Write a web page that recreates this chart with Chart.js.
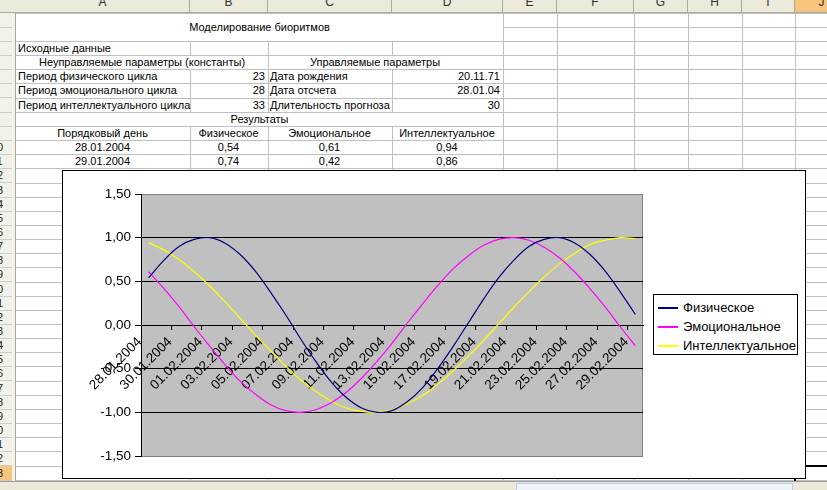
<!DOCTYPE html>
<html>
<head>
<meta charset="utf-8">
<script src="https://cdn.jsdelivr.net/npm/chart.js@4"></script>
<style>
  body { margin: 0; width: 827px; height: 490px; overflow: hidden; background: #fff;
         font-family: "Liberation Sans", Arial, sans-serif; font-size: 11px; color: #000; }
  #sheet { position: absolute; left: 0; top: 0; width: 827px; height: 490px; overflow: hidden; }
  .ln { position: absolute; background: #c0c0c0; }
  .txt { position: absolute; white-space: nowrap; line-height: 14px; }
  .hdr { position: absolute; background: #ebeadb; }
  #chartBox { position: absolute; left: 62px; top: 170px; width: 742px; height: 307px;
              border: 1px solid #000; background: #fff; }
  #legend { position: absolute; left: 653px; top: 294px; width: 143px; height: 59px;
            border: 1px solid #000; background: #fff; font-size: 13px; }
  .lg { position: absolute; left: 4px; height: 19px; line-height: 19px; white-space: nowrap; }
  .sw { position: absolute; left: 4px; width: 20px; height: 2px; }
</style>
</head>
<body>
<div id="sheet"></div>
<div id="chartBox"><canvas id="bio"></canvas></div>
<div id="legend"></div>
<script>
const dates = [
  "28.01.2004", "29.01.2004", "30.01.2004", "31.01.2004", "01.02.2004", "02.02.2004",
  "03.02.2004", "04.02.2004", "05.02.2004", "06.02.2004", "07.02.2004", "08.02.2004",
  "09.02.2004", "10.02.2004", "11.02.2004", "12.02.2004", "13.02.2004", "14.02.2004",
  "15.02.2004", "16.02.2004", "17.02.2004", "18.02.2004", "19.02.2004", "20.02.2004",
  "21.02.2004", "22.02.2004", "23.02.2004", "24.02.2004", "25.02.2004", "26.02.2004",
  "27.02.2004", "28.02.2004", "29.02.2004",
];
const physical = [0.54, 0.74, 0.90, 0.98, 1.00, 0.94, 0.81, 0.62, 0.38, 0.12, -0.16, -0.42, -0.65,
  -0.83, -0.95, -1.00, -0.98, -0.88, -0.72, -0.50, -0.25, 0.02, 0.29, 0.54, 0.74, 0.90, 0.98, 1.00,
  0.94, 0.81, 0.62, 0.38, 0.12];
const emotional = [0.61, 0.42, 0.21, -0.02, -0.24, -0.45, -0.64, -0.79, -0.91, -0.98, -1.00, -0.97,
  -0.89, -0.77, -0.61, -0.42, -0.21, 0.02, 0.24, 0.45, 0.64, 0.79, 0.91, 0.98, 1.00, 0.97, 0.89,
  0.77, 0.61, 0.42, 0.21, -0.02, -0.24];
const intellectual = [0.94, 0.86, 0.75, 0.61, 0.45, 0.27, 0.08, -0.11, -0.29, -0.47, -0.63, -0.76,
  -0.87, -0.95, -0.99, -1.00, -0.97, -0.90, -0.81, -0.68, -0.53, -0.36, -0.18, 0.01, 0.20, 0.38,
  0.55, 0.70, 0.82, 0.92, 0.97, 1.00, 0.99];
const seriesNames = ["Физическое", "Эмоциональное", "Интеллектуальное"];
const seriesColors = ["#000080", "#ff00ff", "#ffff00"];
const yTicks = [1.5, 1.0, 0.5, 0.0, -0.5, -1.0, -1.5];

// spreadsheet behind the chart
const colX = [16, 190, 268, 392, 503, 557, 634, 688, 742, 795, 849];
const colNames = ["A", "B", "C", "D", "E", "F", "G", "H", "I", "J"];
const rowTop = 12.7, rowH = 14.15;
const sheet = document.getElementById("sheet");

function el(cls, css, text) {
  const d = document.createElement("div");
  d.className = cls;
  Object.assign(d.style, css);
  if (text !== undefined) d.textContent = text;
  sheet.appendChild(d);
  return d;
}
function ry(r) { return rowTop + (r - 1) * rowH; }

// horizontal lines (skip merged title rows inside A:D)
for (let r = 1; r <= 34; r++) {
  const y = ry(r);
  if (r === 2) el("ln", { left: colX[4] + "px", top: y + "px", width: "340px", height: "1px" });
  else el("ln", { left: "16px", top: y + "px", width: "811px", height: "1px" });
}
// vertical lines
for (let c = 1; c < colX.length; c++) {
  const x = colX[c];
  let segs = [[ry(1), 490]];
  if (c === 1) segs = [[ry(3), ry(4)], [ry(5), ry(8)], [ry(9), 490]];
  if (c === 2) segs = [[ry(3), ry(8)], [ry(9), 490]];
  if (c === 3) segs = [[ry(3), ry(4)], [ry(5), ry(8)], [ry(9), 490]];
  segs.forEach(s => el("ln", { left: x + "px", top: s[0] + "px", width: "1px", height: (s[1] - s[0]) + "px" }));
}
// column headers
el("hdr", { left: "0px", top: "0px", width: "827px", height: "12px", borderBottom: "1px solid #aca899" });
for (let c = 0; c < colNames.length; c++) {
  const w = colX[c + 1] - colX[c];
  const h = el("hdr", { left: colX[c] + "px", top: "0px", width: (w - 1) + "px", height: "12px",
    borderRight: "1px solid #aca899", overflow: "hidden",
    background: c === 9 ? "#f8c57e" : "#ebeadb" });
  const t = document.createElement("div");
  Object.assign(t.style, { position: "absolute", left: "0", top: "-5px", width: "100%", textAlign: "center", fontSize: "12px", color: "#333" });
  t.textContent = colNames[c];
  h.appendChild(t);
}
// row headers (only the right edge of the header column is on screen)
const rh = el("hdr", { left: "0px", top: "13px", width: "15px", height: "477px", borderRight: "1px solid #aca899",
  background: "#f3f2ea", overflow: "hidden" });
for (let r = 1; r <= 33; r++) {
  const t = document.createElement("div");
  Object.assign(t.style, { position: "absolute", left: "-18px", top: (ry(r) - 13) + "px", width: "30px", height: "14px",
    lineHeight: "14px", textAlign: "center", fontSize: "11px", color: "#222",
    background: r === 33 ? "#f8c57e" : "transparent", borderBottom: "1px solid #cfcdbf" });
  t.textContent = String(r);
  rh.appendChild(t);
}
// active cell J33
el("ln", { left: "794px", top: (ry(33) - 1) + "px", width: "40px", height: "15px", background: "transparent", border: "2px solid #000" });

function cell(text, r, c1, c2, align) {
  const x1 = colX[c1], x2 = colX[c2 + 1];
  const css = { top: ry(r) + "px", left: (x1 + 2) + "px", width: (x2 - x1 - 5) + "px", textAlign: align };
  el("txt", css, text);
}
el("txt", { left: "16px", top: (ry(1) + 7) + "px", width: "487px", textAlign: "center" }, "Моделирование биоритмов");
cell("Исходные данные", 3, 0, 0, "left");
el("txt", { left: "16px", top: ry(4) + "px", width: "252px", textAlign: "center" }, "Неуправляемые параметры (константы)");
el("txt", { left: "268px", top: ry(4) + "px", width: "214px", textAlign: "center" }, "Управляемые параметры");
const params = [
  ["Период физического цикла", "23", "Дата рождения", "20.11.71"],
  ["Период эмоционального цикла", "28", "Дата отсчета", "28.01.04"],
  ["Период интеллектуального цикла", "33", "Длительность прогноза", "30"],
];
params.forEach((p, i) => {
  cell(p[0], 5 + i, 0, 0, "left");
  cell(p[1], 5 + i, 1, 1, "right");
  cell(p[2], 5 + i, 2, 2, "left");
  cell(p[3], 5 + i, 3, 3, "right");
});
el("txt", { left: "16px", top: ry(8) + "px", width: "487px", textAlign: "center" }, "Результаты");
["Порядковый день"].concat(seriesNames).forEach((h, c) => cell(h, 9, c, c, "center"));
const fmt = v => v.toFixed(2).replace(".", ",");
for (let i = 0; i < 2; i++) {
  cell(dates[i], 10 + i, 0, 0, "center");
  cell(fmt(physical[i]), 10 + i, 1, 1, "center");
  cell(fmt(emotional[i]), 10 + i, 2, 2, "center");
  cell(fmt(intellectual[i]), 10 + i, 3, 3, "center");
}
// sheet tabs / scroll bar strip
el("hdr", { left: "0px", top: "481px", width: "827px", height: "9px", background: "#ece9d8", borderTop: "1px solid #9d9d9d" });
el("hdr", { left: "516px", top: "483px", width: "275px", height: "7px", background: "#eef2fb", border: "1px solid #b9c9ef" });

// legend
const legend = document.getElementById("legend");
seriesNames.forEach((n, i) => {
  const sw = document.createElement("div");
  sw.className = "sw";
  sw.style.top = (12 + i * 19) + "px";
  sw.style.background = seriesColors[i];
  legend.appendChild(sw);
  const d = document.createElement("div");
  d.className = "lg";
  d.style.left = "29px";
  d.style.top = (3 + i * 19) + "px";
  d.textContent = n;
  legend.appendChild(d);
});

const plotBg = {
  id: "plotBg",
  beforeDraw(chart) {
    const a = chart.chartArea, c = chart.ctx;
    c.save();
    c.fillStyle = "#c0c0c0";
    c.fillRect(a.left, a.top, a.right - a.left, a.bottom - a.top);
    c.strokeStyle = "#808080";
    c.lineWidth = 1;
    c.strokeRect(a.left + 0.5, a.top + 0.5, a.right - a.left - 1, a.bottom - a.top);
    c.restore();
  },
};

Chart.defaults.font.family = '"Liberation Sans", Arial, sans-serif';
Chart.defaults.color = "#000";

new Chart(document.getElementById("bio"), {
  type: "line",
  plugins: [plotBg],
  data: {
    labels: dates,
    datasets: [physical, emotional, intellectual].map((d, i) => ({
      label: seriesNames[i],
      data: d,
      borderColor: seriesColors[i],
      backgroundColor: seriesColors[i],
      borderWidth: 1.2,
      pointRadius: 0,
      tension: 0.4,
      fill: false,
    })),
  },
  options: {
    responsive: true,
    maintainAspectRatio: false,
    animation: false,
    layout: { padding: { left: 0, right: 162, top: 23, bottom: 22 } },
    plugins: { legend: { display: false }, tooltip: { enabled: false } },
    scales: {
      x: {
        type: "category",
        position: { y: 0 },
        offset: true,
        afterFit: (scale) => { scale.height = 0; },
        border: { color: "#000", width: 1 },
        grid: {
          offset: true,
          drawOnChartArea: false,
          tickLength: 4,
          tickColor: (ctx) => (ctx.index % 2 === 0 ? "#000" : "rgba(0,0,0,0)"),
        },
        ticks: {
          autoSkip: false,
          maxRotation: 45,
          minRotation: 45,
          labelOffset: -9,
          padding: 5,
          font: { size: 13.5 },
          callback: (v, i) => (i % 2 === 0 ? dates[i] : ""),
        },
      },
      y: {
        min: -1.5,
        max: 1.5,
        afterFit: (scale) => { scale.width = 78; },
        afterBuildTicks: (scale) => { scale.ticks = yTicks.map(v => ({ value: v })); },
        border: { color: "#000", width: 1 },
        grid: {
          color: (ctx) => (Math.abs(ctx.tick.value) === 1.5 ? "rgba(0,0,0,0)" : "#000"),
          tickColor: "#000",
          tickLength: 6,
        },
        ticks: {
          padding: 4,
          font: { size: 13.5 },
          callback: (v) => fmt(v),
        },
      },
    },
  },
});
</script>
</body>
</html>
